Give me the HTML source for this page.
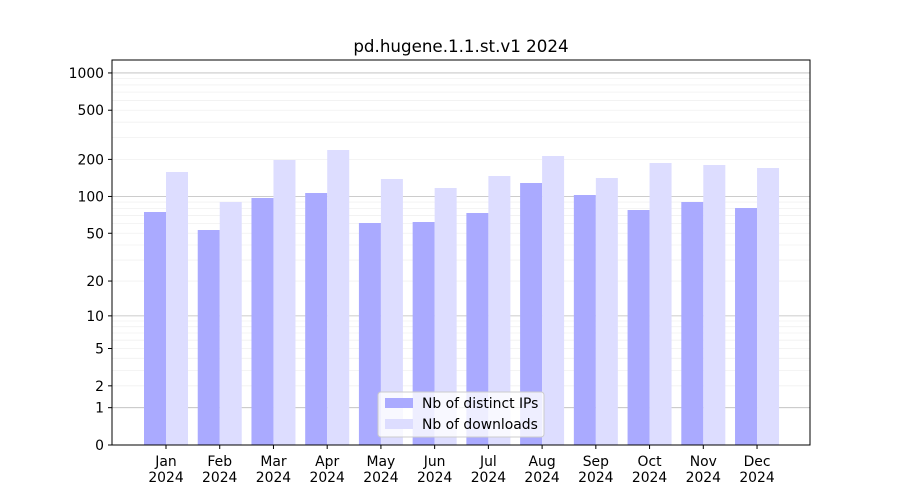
<!DOCTYPE html>
<html><head><meta charset="utf-8"><style>
body{margin:0;background:#fff;}
svg{display:block;font-family:"DejaVu Sans","Liberation Sans",sans-serif;}
</style></head><body>
<svg id="s" width="900" height="500" xmlns="http://www.w3.org/2000/svg">
<rect width="900" height="500" fill="#fff"/>
<g id="grid"></g>
<g id="bars"></g>
<rect x="112" y="60" width="698" height="385" fill="none" stroke="#000" stroke-width="1"/>
<g id="ticks" font-size="13.9" fill="#000"></g>
<text x="461" y="52" font-size="16.7" text-anchor="middle">pd.hugene.1.1.st.v1 2024</text>
<g>
<rect x="378" y="392" width="166" height="45" rx="3" fill="#fff" fill-opacity="0.8" stroke="#ccc"/>
<rect x="385" y="398" width="28" height="10" fill="#aaaaff"/>
<text x="422" y="408" font-size="13.9">Nb of distinct IPs</text>
<rect x="385" y="419" width="28" height="10" fill="#ddddff"/>
<text x="422" y="429" font-size="13.9">Nb of downloads</text>
</g>
</svg>
<script>
var NS="http://www.w3.org/2000/svg";
function el(p,t,a,txt){var e=document.createElementNS(NS,t);for(var k in a)e.setAttribute(k,a[k]);if(txt!=null)e.textContent=txt;document.getElementById(p).appendChild(e);return e;}
function Y(v){return 445-124*Math.log10(1+v);}
[2,3,4,5,6,7,8,9,20,30,40,50,60,70,80,90,200,300,400,500,600,700,800,900].forEach(function(v){var y=Y(v);el("grid","line",{x1:112,x2:810,y1:y,y2:y,stroke:"#f0f0f0","stroke-width":0.8});});
[1,10,100,1000].forEach(function(v){var y=Y(v);el("grid","line",{x1:112,x2:810,y1:y,y2:y,stroke:"#bbb","stroke-width":0.8});});
var ips=[212,230,198,193,223,222,213,183,195,210,202,208];
var dl=[172,202,160,150,179,188,176,156,178,163,165,168];
var m=["Jan","Feb","Mar","Apr","May","Jun","Jul","Aug","Sep","Oct","Nov","Dec"];
for(var i=0;i<12;i++){var c=166+i*53.73;
el("bars","rect",{x:c-22,y:ips[i],width:22,height:445-ips[i],fill:"#aaaaff"});
el("bars","rect",{x:c,y:dl[i],width:22,height:445-dl[i],fill:"#ddddff"});
el("ticks","line",{x1:c,x2:c,y1:445,y2:449,stroke:"#000"});
el("ticks","text",{x:c,y:466,"text-anchor":"middle"},m[i]);
el("ticks","text",{x:c,y:482,"text-anchor":"middle"},"2024");}
[0,1,2,5,10,20,50,100,200,500,1000].forEach(function(v){var y=Y(v);
el("ticks","line",{x1:108,x2:112,y1:y,y2:y,stroke:"#000"});
el("ticks","text",{x:104,y:y+5,"text-anchor":"end"},String(v));});
</script>
</body></html>
